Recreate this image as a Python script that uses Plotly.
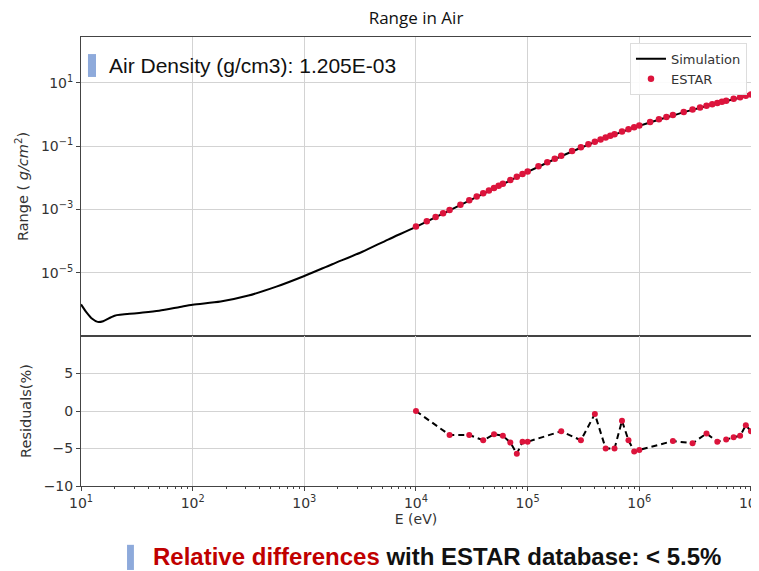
import plotly.graph_objects as go
from plotly.subplots import make_subplots

# Simulated CSDA range in air (eV, g/cm2)
sim_energy = [10, 11.2, 12.6, 14.1, 15.8, 20, 31.6, 50, 76.9, 100, 178, 316, 562,
              1000, 1780, 3310, 5620, 10000, 20000, 30000, 50000, 100000,
              200000, 300000, 500000, 1000000, 2000000, 3000000, 5000000, 10000000]
sim_range = [1.0e-6, 5.6e-7, 3.5e-7, 2.8e-7, 2.95e-7, 4.4e-7, 5.25e-7, 6.3e-7,
             8.3e-7, 9.8e-7, 1.23e-6, 1.9e-6, 3.63e-6,
             7.9e-6, 1.86e-5, 4.6e-5, 1.12e-4, 2.82e-4, 9.4e-4, 1.9e-3, 4.6e-3, 1.53e-2,
             4.8e-2, 8.9e-2, 1.83e-1, 4.38e-1, 9.35e-1, 1.40, 2.26, 4.16]

# ESTAR reference points
estar_energy = [1e4, 1.25e4, 1.5e4, 1.75e4, 2e4, 2.5e4, 3e4, 3.5e4, 4e4, 4.5e4, 5e4, 5.5e4, 6e4, 7e4, 8e4, 9e4,
                1e5, 1.25e5, 1.5e5, 1.75e5, 2e5, 2.5e5, 3e5, 3.5e5, 4e5, 4.5e5, 5e5, 5.5e5, 6e5, 7e5, 8e5, 9e5,
                1e6, 1.25e6, 1.5e6, 1.75e6, 2e6, 2.5e6, 3e6, 3.5e6, 4e6, 4.5e6, 5e6, 5.5e6, 6e6, 7e6, 8e6, 9e6,
                1e7]
estar_range = [2.883e-4, 4.247e-4, 5.828e-4, 7.619e-4, 9.613e-4, 1.421e-3, 1.955e-3, 2.559e-3,
               3.230e-3, 3.965e-3, 4.763e-3, 5.621e-3, 6.538e-3, 8.542e-3, 1.076e-2, 1.318e-2,
               1.578e-2, 2.302e-2, 3.112e-2, 3.994e-2, 4.939e-2, 6.978e-2, 9.165e-2, 1.146e-1,
               1.384e-1, 1.630e-1, 1.881e-1, 2.136e-1, 2.394e-1, 2.916e-1, 3.443e-1, 3.972e-1,
               4.501e-1, 5.815e-1, 7.111e-1, 8.386e-1, 9.640e-1, 1.208, 1.445, 1.675,
               1.899, 2.118, 2.332, 2.541, 2.746, 3.145, 3.530, 3.903, 4.265]

# Residuals (%)
res_energy = [1e4, 2e4, 3e4, 4e4, 5e4, 6e4, 7e4, 8e4, 9e4, 1e5,
              2e5, 3e5, 4e5, 5e5, 6e5, 7e5, 8e5, 9e5, 1e6,
              2e6, 3e6, 4e6, 5e6, 6e6, 7e6, 8e6, 9e6, 1e7]
res_values = [0.0, -3.2, -3.2, -3.9, -3.1, -3.3, -4.2, -5.7, -4.1, -4.1,
              -2.7, -3.9, -0.4, -5.0, -5.0, -1.3, -3.9, -5.4, -5.2,
              -4.0, -4.3, -3.0, -4.1, -3.8, -3.5, -3.3, -1.9, -2.7]

x_ticks = [1e1, 1e2, 1e3, 1e4, 1e5, 1e6, 1e7]
x_ticktext = ["10<sup>%d</sup>" % i for i in range(1, 8)]
y_ticks = [1e1, 1e-1, 1e-3, 1e-5]
y_ticktext = ["10<sup>1</sup>", "10<sup>\u22121</sup>", "10<sup>\u22123</sup>", "10<sup>\u22125</sup>"]
# minor tick positions on the energy axis (2..9 x each decade)
x_minor = [m * 10 ** d for d in range(1, 7) for m in range(2, 10)]

RED = "#dc143c"
GRID = "#d3d3d3"
AXIS = "#444444"

fig = make_subplots(rows=2, cols=1, shared_xaxes=True, vertical_spacing=0,
                    row_heights=[0.666, 0.334])

fig.add_trace(go.Scatter(x=sim_energy, y=sim_range, mode="lines", name="Simulation",
                         line=dict(color="black", width=2, shape="spline", smoothing=0.8)),
              row=1, col=1)
fig.add_trace(go.Scatter(x=estar_energy, y=estar_range, mode="markers", name="ESTAR",
                         marker=dict(color=RED, size=6.5)),
              row=1, col=1)
fig.add_trace(go.Scatter(x=res_energy, y=res_values, mode="lines+markers", showlegend=False,
                         line=dict(color="black", width=2, dash="6px,4px"),
                         marker=dict(color=RED, size=6)),
              row=2, col=1)

axis_common = dict(showline=True, linecolor=AXIS, linewidth=1, mirror=True,
                   showgrid=True, gridcolor=GRID, gridwidth=1, zeroline=False,
                   tickcolor=AXIS, ticklen=4, automargin=False,
                   tickfont=dict(size=14, color="#333333"))

fig.update_xaxes(type="log", range=[1, 7.0005], tickvals=x_ticks, ticktext=x_ticktext,
                 ticklabeloverflow="allow", **axis_common)
fig.update_xaxes(showticklabels=False, ticks="", row=1, col=1)
fig.update_xaxes(ticks="outside", title_text="E (eV)", title_standoff=2,
                 title_font=dict(size=14),
                 minor=dict(tickmode="array", tickvals=x_minor, ticks="outside", ticklen=2,
                            tickcolor=AXIS, showgrid=False),
                 row=2, col=1)

fig.update_yaxes(type="log", range=[-7, 2.45], tickvals=y_ticks, ticktext=y_ticktext,
                 ticks="outside", title_text="Range ( <i>g/cm</i><sup>2</sup>)",
                 title_font=dict(size=14.5), title_standoff=8, row=1, col=1, **axis_common)
fig.update_yaxes(range=[-10, 10], tickvals=[-10, -5, 0, 5],
                 ticktext=["\u221210", "\u22125", "0", "5"],
                 ticks="outside", title_text="Residuals(%)", title_font=dict(size=14.5),
                 title_standoff=8, row=2, col=1, **axis_common)

# decorations: info line at top and summary line at bottom
fig.add_shape(type="rect", xref="paper", yref="paper", x0=0.0104, x1=0.0224, y0=0.911, y1=0.962,
              fillcolor="#8eaadb", line_width=0)
fig.add_annotation(text="Air Density (g/cm3): 1.205E-03", xref="paper", yref="paper",
                   x=0.039, y=0.9376, xanchor="left", yanchor="middle", showarrow=False,
                   font=dict(family="Liberation Sans, Arial", size=21, color="#111111"))
fig.add_shape(type="rect", xref="paper", yref="paper", x0=0.0687, x1=0.079, y0=-0.187, y1=-0.131,
              fillcolor="#8eaadb", line_width=0)
fig.add_annotation(text="<b><span style='color:#c00000'>Relative differences</span> with ESTAR database: &lt; 5.5%</b>",
                   xref="paper", yref="paper", x=0.104, y=-0.158, xanchor="left", yanchor="middle",
                   showarrow=False, font=dict(family="Liberation Sans, Arial", size=24, color="#111111"))

# the page body adds an 8px offset, so the figure is 8px smaller and margins shifted
fig.update_layout(
    width=751, height=563,
    margin=dict(l=73, r=8, t=29, b=85),
    paper_bgcolor="white", plot_bgcolor="white",
    font=dict(family="DejaVu Sans", size=12, color="#333333"),
    title=dict(text="Range in Air", x=0.5, xref="paper", y=0.982, yanchor="middle",
               font=dict(family="Open Sans", size=17, color="#111111")),
    legend=dict(x=0.994, y=0.987, xanchor="right", yanchor="top",
                bgcolor="rgba(255,255,255,0.9)", bordercolor="#dddddd", borderwidth=1,
                font=dict(size=13, color="#333333"), itemwidth=30, tracegroupgap=0),
    showlegend=True,
)

fig.write_html("out.html")
